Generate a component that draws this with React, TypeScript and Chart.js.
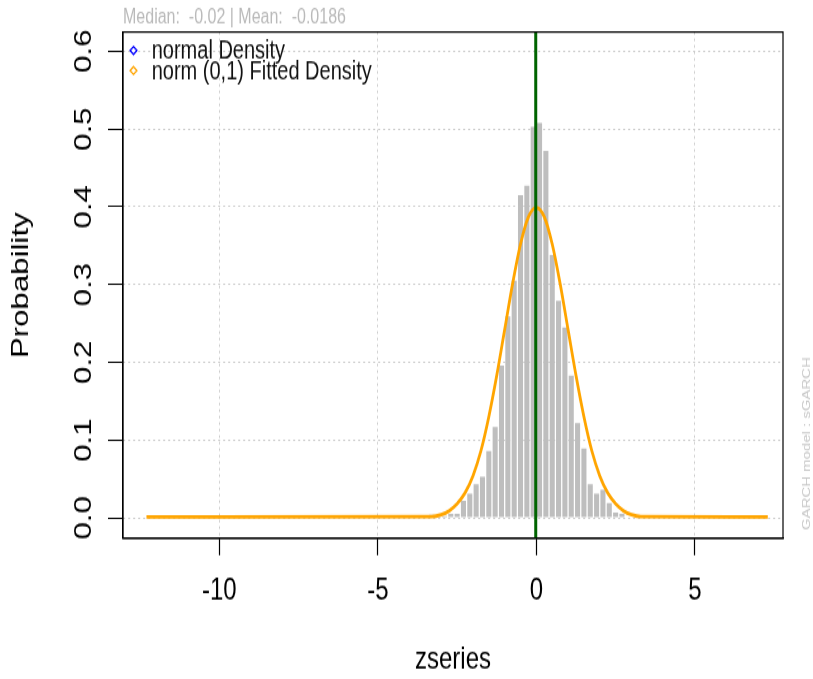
import React, { useEffect, useRef } from "react";
import { Chart, registerables } from "chart.js";

Chart.register(...registerables);

// ---------- data ----------
const BIN_CENTERS = [
  -3.3, -3.1, -2.9, -2.7, -2.5, -2.3, -2.1, -1.9, -1.7, -1.5, -1.3, -1.1, -0.9, -0.7, -0.5, -0.3, -0.1,
  0.1, 0.3, 0.5, 0.7, 0.9, 1.1, 1.3, 1.5, 1.7, 1.9, 2.1, 2.3, 2.5, 2.7,
];
const BIN_DENSITY = [
  0.004, 0.002, 0.002, 0.005, 0.005, 0.022, 0.031, 0.043, 0.053, 0.086, 0.117, 0.196, 0.259, 0.305, 0.415, 0.427, 0.503,
  0.508, 0.472, 0.338, 0.279, 0.245, 0.183, 0.122, 0.089, 0.043, 0.031, 0.036, 0.019, 0.007, 0.005,
];
const CURVE_X = [
  -12.3, -3.3, -3, -2.75, -2.5, -2.25, -2, -1.75, -1.5, -1.25, -1, -0.75, -0.5, -0.25, 0,
  0.25, 0.5, 0.75, 1, 1.25, 1.5, 1.75, 2, 2.25, 2.5, 2.75, 3, 3.3, 7.3,
];
const CURVE_Y = [
  0.001, 0.0015, 0.004, 0.009, 0.018, 0.032, 0.054, 0.086, 0.13, 0.183, 0.242, 0.301, 0.352, 0.387, 0.399,
  0.387, 0.352, 0.301, 0.242, 0.183, 0.13, 0.086, 0.054, 0.032, 0.018, 0.009, 0.004, 0.0015, 0.001,
];
const X_TICKS = [-10, -5, 0, 5];
const Y_TICKS = [0, 0.1, 0.2, 0.3, 0.4, 0.5, 0.6];
const X_MIN = -13.04;
const X_MAX = 7.78;
const Y_MIN = -0.0264;
const Y_MAX = 0.6248;
const MEDIAN = -0.02;
const TITLE_TEXT = "Median:  -0.02 | Mean:  -0.0186";
const LEGEND_LABELS = ["normal Density", "norm (0,1) Fitted Density"];
const LEGEND_COLORS = ["#0000ff", "#ffa500"];
const SIDE_TEXT = "GARCH model : sGARCH";
const X_TITLE = "zseries";
const Y_TITLE = "Probability";

// ---------- layout ----------
const W = 813;
const H = 679;
const STRETCH = 1.3;
const CH = Math.round(H / STRETCH); // internal canvas height
const FONT = "'Liberation Sans', Arial, Helvetica, sans-serif";
const PLOT_LEFT = 123;
const PLOT_RIGHT = 783;
const PLOT_TOP = 32 / STRETCH;
const PLOT_BOTTOM = 538 / STRETCH;

const overlayPlugin = {
  id: "rOverlay",
  afterDatasetsDraw(chart: any) {
    const { ctx, chartArea: a, scales } = chart;
    const x = scales.x.getPixelForValue(MEDIAN);
    ctx.save();
    ctx.strokeStyle = "#006400";
    ctx.lineWidth = 3;
    ctx.beginPath();
    ctx.moveTo(x, a.top);
    ctx.lineTo(x, a.bottom);
    ctx.stroke();
    ctx.restore();
  },
  afterDraw(chart: any) {
    const { ctx, chartArea: a } = chart;
    ctx.save();
    // plot box
    ctx.strokeStyle = "#000";
    ctx.lineWidth = 1.2;
    ctx.strokeRect(a.left, a.top, a.right - a.left, a.bottom - a.top);

    // legend
    ctx.font = `20px ${FONT}`;
    ctx.textAlign = "left";
    ctx.textBaseline = "middle";
    LEGEND_LABELS.forEach((t, i) => {
      const cy = a.top + 14.2 + i * 15.4;
      const cx = a.left + 10.5;
      ctx.beginPath();
      ctx.moveTo(cx, cy - 3);
      ctx.lineTo(cx + 3.4, cy);
      ctx.lineTo(cx, cy + 3);
      ctx.lineTo(cx - 3.4, cy);
      ctx.closePath();
      ctx.fillStyle = "#fff";
      ctx.fill();
      ctx.strokeStyle = LEGEND_COLORS[i];
      ctx.lineWidth = 1.3;
      ctx.stroke();
      ctx.fillStyle = "#111";
      ctx.fillText(t, a.left + 28.7, cy + 0.8);
    });

    // side caption
    ctx.translate(807, 341);
    ctx.rotate(-Math.PI / 2);
    ctx.font = `11.5px ${FONT}`;
    ctx.textAlign = "center";
    ctx.textBaseline = "middle";
    ctx.fillStyle = "#c8c8c8";
    ctx.fillText(SIDE_TEXT, 0, 0);
    ctx.restore();
  },
};

export default function App() {
  const ref = useRef<HTMLCanvasElement | null>(null);

  useEffect(() => {
    const canvas = ref.current;
    if (!canvas) return;
    const axisFont = { family: FONT, size: 24 };
    const chart = new Chart(canvas, {
      type: "bar",
      data: {
        datasets: [
          {
            type: "line",
            label: "fitted",
            data: CURVE_X.map((x, i) => ({ x, y: CURVE_Y[i] })),
            borderColor: "#ffa500",
            backgroundColor: "#ffa500",
            borderWidth: 2.8,
            pointRadius: 0,
            fill: false,
            cubicInterpolationMode: "monotone",
            order: 1,
          } as any,
          {
            type: "bar",
            label: "hist",
            data: BIN_CENTERS.map((x, i) => ({ x, y: BIN_DENSITY[i] })),
            backgroundColor: "#bebebe",
            borderWidth: 0,
            barPercentage: 0.8,
            categoryPercentage: 1,
            order: 2,
          } as any,
        ],
      },
      options: {
        responsive: false,
        animation: false,
        devicePixelRatio: 1,
        layout: { padding: { left: 0, right: W - PLOT_RIGHT, top: 0, bottom: 0 } },
        plugins: {
          legend: { display: false },
          tooltip: { enabled: false },
          title: {
            display: true,
            text: TITLE_TEXT,
            align: "start",
            fullSize: false,
            color: "#bababa",
            font: { family: FONT, size: 16, weight: "normal" },
            padding: { top: 4.2, bottom: PLOT_TOP - 19.2 - 4.2 },
          },
        },
        scales: {
          x: {
            type: "linear",
            min: X_MIN,
            max: X_MAX,
            offset: false,
            grid: {
              offset: false,
              color: "#cccccc",
              lineWidth: 1,
              tickColor: "#000",
              tickLength: 13,
              tickWidth: 1.2,
              tickBorderDash: [],
            },
            border: { display: true, color: "#000", width: 1.2, dash: [2, 3] },
            ticks: {
              font: axisFont,
              color: "#000",
              padding: 13,
              maxRotation: 0,
              autoSkip: false,
              callback: (v: any) => String(v),
            },
            title: { display: true, text: X_TITLE, font: axisFont, color: "#000", padding: { top: 0, bottom: 0 } },
            afterBuildTicks: (s: any) => {
              s.ticks = X_TICKS.map((v) => ({ value: v }));
            },
            afterFit: (s: any) => {
              s.height = CH - PLOT_BOTTOM;
            },
          },
          y: {
            type: "linear",
            min: Y_MIN,
            max: Y_MAX,
            grid: {
              color: "#cccccc",
              lineWidth: 1,
              tickColor: "#000",
              tickLength: 15,
              tickWidth: 1,
              tickBorderDash: [],
            },
            border: { display: true, color: "#000", width: 1.2, dash: [2, 3] },
            ticks: {
              font: axisFont,
              color: "#000",
              padding: 7,
              minRotation: 90,
              maxRotation: 90,
              crossAlign: "center",
              autoSkip: false,
              callback: (v: any) => Number(v).toFixed(1),
            },
            title: { display: true, text: Y_TITLE, font: axisFont, color: "#000", padding: { top: 7, bottom: 0 } },
            afterBuildTicks: (s: any) => {
              s.ticks = Y_TICKS.map((v) => ({ value: v }));
            },
            afterFit: (s: any) => {
              s.width = PLOT_LEFT;
            },
          },
        },
      } as any,
      plugins: [overlayPlugin],
    });
    return () => chart.destroy();
  }, []);

  return (
    <div style={{ position: "fixed", left: 0, top: 0, width: W, height: H, background: "#fff" }}>
      <canvas
        ref={ref}
        width={W}
        height={CH}
        style={{ display: "block", width: `${W}px`, height: `${H}px` }}
      />
    </div>
  );
}
